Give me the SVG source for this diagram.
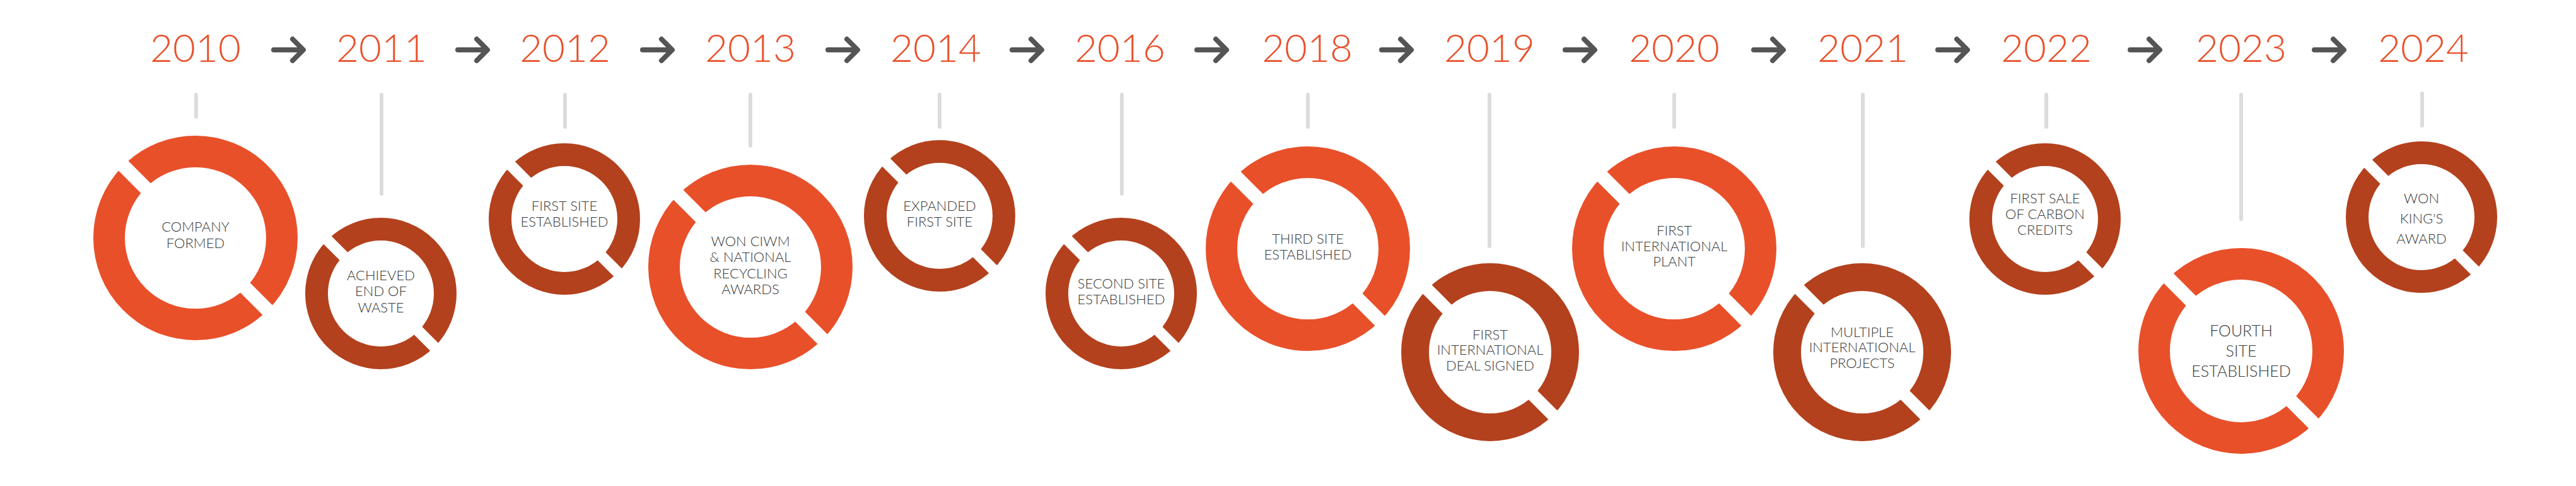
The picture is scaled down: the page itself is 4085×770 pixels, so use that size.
<svg xmlns="http://www.w3.org/2000/svg" width="4085" height="770" viewBox="0 0 4085 770">
<style>
.yr{font-family:Lato,"Liberation Sans",sans-serif;font-weight:300;font-size:62px;fill:#E8502A;text-anchor:middle}
.lb{font-family:Lato,"Liberation Sans",sans-serif;font-weight:300;font-size:22px;fill:#3a3a3a;text-anchor:middle}
.ar{fill:none;stroke:#555;stroke-width:8;stroke-linecap:round;stroke-linejoin:round}
.st{stroke:#dcdcdc;stroke-width:6;stroke-linecap:round}
.o{fill:none;stroke:#E8502A}
.d{fill:none;stroke:#B3411D}
.cut{stroke:#fff}
</style>
<defs>
<path id="arw" class="ar" d="M-24 0H20M6-17L23 0L6 17"/>
</defs>
<g id="years">
<text class="yr" x="310" y="98">2010</text>
<text class="yr" x="605" y="98">2011</text>
<text class="yr" x="896" y="98">2012</text>
<text class="yr" x="1190" y="98">2013</text>
<text class="yr" x="1484" y="98">2014</text>
<text class="yr" x="1776" y="98">2016</text>
<text class="yr" x="2073" y="98">2018</text>
<text class="yr" x="2362" y="98">2019</text>
<text class="yr" x="2655" y="98">2020</text>
<text class="yr" x="2954" y="98">2021</text>
<text class="yr" x="3245" y="98">2022</text>
<text class="yr" x="3554" y="98">2023</text>
<text class="yr" x="3843" y="98">2024</text>
</g>
<g id="connectors">
<use href="#arw" x="458" y="79"/>
<use href="#arw" x="750" y="79"/>
<use href="#arw" x="1043" y="79"/>
<use href="#arw" x="1337" y="79"/>
<use href="#arw" x="1629" y="79"/>
<use href="#arw" x="1922" y="79"/>
<use href="#arw" x="2215" y="79"/>
<use href="#arw" x="2506" y="79"/>
<use href="#arw" x="2805" y="79"/>
<use href="#arw" x="3097" y="79"/>
<use href="#arw" x="3402" y="79"/>
<use href="#arw" x="3694" y="79"/>
<line class="st" x1="311" y1="150" x2="311" y2="185"/>
<line class="st" x1="605" y1="150" x2="605" y2="307"/>
<line class="st" x1="896" y1="150" x2="896" y2="201"/>
<line class="st" x1="1190" y1="150" x2="1190" y2="231"/>
<line class="st" x1="1490" y1="150" x2="1490" y2="201"/>
<line class="st" x1="1779" y1="150" x2="1779" y2="307"/>
<line class="st" x1="2074" y1="150" x2="2074" y2="201"/>
<line class="st" x1="2362" y1="150" x2="2362" y2="390"/>
<line class="st" x1="2655" y1="150" x2="2655" y2="201"/>
<line class="st" x1="2954" y1="150" x2="2954" y2="390"/>
<line class="st" x1="3245" y1="150" x2="3245" y2="201"/>
<line class="st" x1="3554" y1="150" x2="3554" y2="347"/>
<line class="st" x1="3841" y1="148" x2="3841" y2="199"/>
</g>
<g id="n2010" transform="translate(310,377)">
<circle class="o" r="137" stroke-width="50"/>
<path class="cut" stroke-width="22" d="M-75-75L-128-128M75 75L128 128"/>
<text class="lb" y="-10">COMPANY</text><text class="lb" y="16">FORMED</text>
</g>
<g id="n2011" transform="translate(604,465)">
<circle class="d" r="102" stroke-width="36"/>
<path class="cut" stroke-width="18" d="M-56-56L-90-90M56 56L90 90"/>
<text class="lb" y="-21">ACHIEVED</text><text class="lb" y="4">END OF</text><text class="lb" y="30">WASTE</text>
</g>
<g id="n2012" transform="translate(895,347)">
<circle class="d" r="102" stroke-width="36"/>
<path class="cut" stroke-width="18" d="M-56-56L-90-90M56 56L90 90"/>
<text class="lb" y="-13">FIRST SITE</text><text class="lb" y="12">ESTABLISHED</text>
</g>
<g id="n2013" transform="translate(1190,423)">
<circle class="o" r="137" stroke-width="50"/>
<path class="cut" stroke-width="22" d="M-75-75L-128-128M75 75L128 128"/>
<text class="lb" y="-33">WON CIWM</text><text class="lb" y="-8">&amp; NATIONAL</text><text class="lb" y="18">RECYCLING</text><text class="lb" y="43">AWARDS</text>
</g>
<g id="n2014" transform="translate(1490,342)">
<circle class="d" r="102" stroke-width="36"/>
<path class="cut" stroke-width="18" d="M-56-56L-90-90M56 56L90 90"/>
<text class="lb" y="-8">EXPANDED</text><text class="lb" y="17">FIRST SITE</text>
</g>
<g id="n2016" transform="translate(1778,465)">
<circle class="d" r="102" stroke-width="36"/>
<path class="cut" stroke-width="18" d="M-56-56L-90-90M56 56L90 90"/>
<text class="lb" y="-8">SECOND SITE</text><text class="lb" y="17">ESTABLISHED</text>
</g>
<g id="n2018" transform="translate(2074,394)">
<circle class="o" r="137" stroke-width="50"/>
<path class="cut" stroke-width="22" d="M-75-75L-128-128M75 75L128 128"/>
<text class="lb" y="-8">THIRD SITE</text><text class="lb" y="17">ESTABLISHED</text>
</g>
<g id="n2019" transform="translate(2363,558)">
<circle class="d" r="119" stroke-width="44"/>
<path class="cut" stroke-width="20" d="M-64-64L-106-106M64 64L106 106"/>
<text class="lb" y="-20">FIRST</text><text class="lb" y="4">INTERNATIONAL</text><text class="lb" y="29">DEAL SIGNED</text>
</g>
<g id="n2020" transform="translate(2655,394)">
<circle class="o" r="137" stroke-width="50"/>
<path class="cut" stroke-width="22" d="M-75-75L-128-128M75 75L128 128"/>
<text class="lb" y="-21">FIRST</text><text class="lb" y="4">INTERNATIONAL</text><text class="lb" y="28">PLANT</text>
</g>
<g id="n2021" transform="translate(2953,558)">
<circle class="d" r="119" stroke-width="44"/>
<path class="cut" stroke-width="20" d="M-64-64L-106-106M64 64L106 106"/>
<text class="lb" y="-24">MULTIPLE</text><text class="lb" y="0">INTERNATIONAL</text><text class="lb" y="25">PROJECTS</text>
</g>
<g id="n2022" transform="translate(3243,347)">
<circle class="d" r="102" stroke-width="36"/>
<path class="cut" stroke-width="18" d="M-56-56L-90-90M56 56L90 90"/>
<text class="lb" y="-25">FIRST SALE</text><text class="lb" y="0">OF CARBON</text><text class="lb" y="25">CREDITS</text>
</g>
<g id="n2023" transform="translate(3554,556)">
<circle class="o" r="138" stroke-width="50"/>
<path class="cut" stroke-width="22" d="M-75-75L-128-128M75 75L128 128"/>
<text class="lb" style="font-size:25px" y="-23">FOURTH</text><text class="lb" style="font-size:25px" y="9">SITE</text><text class="lb" style="font-size:25px" y="41">ESTABLISHED</text>
</g>
<g id="n2024" transform="translate(3840,344)">
<circle class="d" r="102" stroke-width="36"/>
<path class="cut" stroke-width="18" d="M-56-56L-90-90M56 56L90 90"/>
<text class="lb" y="-22">WON</text><text class="lb" y="10">KING'S</text><text class="lb" y="42">AWARD</text>
</g>
</svg>
